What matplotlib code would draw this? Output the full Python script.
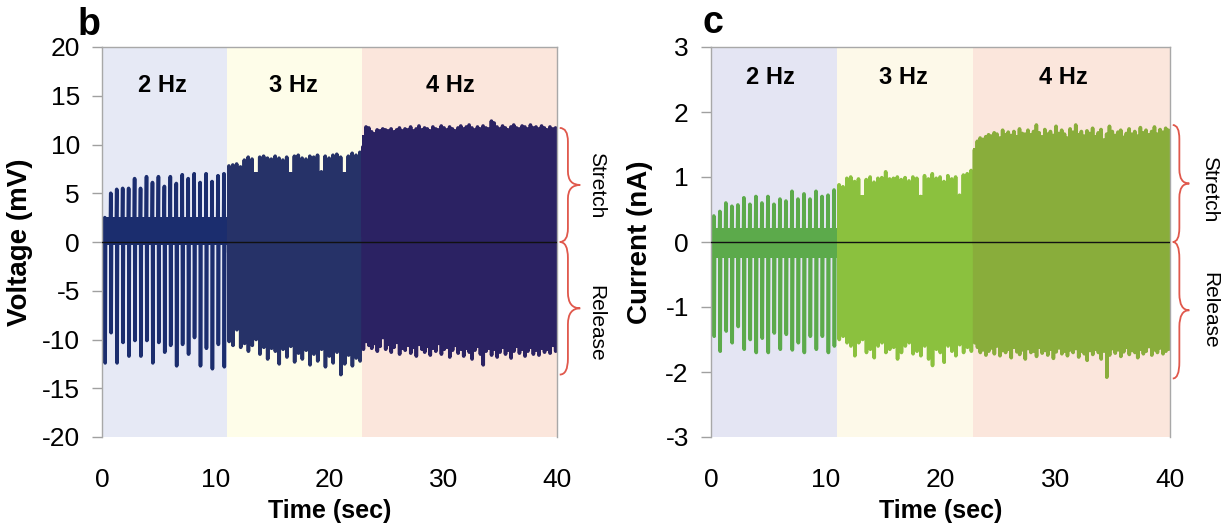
import matplotlib
matplotlib.use("Agg")
import matplotlib.pyplot as plt
from matplotlib.path import Path
from matplotlib.patches import PathPatch
from matplotlib.transforms import blended_transform_factory

plt.rcParams['font.family'] = ['Liberation Sans', 'DejaVu Sans']
plt.rcParams['axes.unicode_minus'] = False

# ==========================
# Data
# ==========================

seg_start = [0.0, 11.0, 22.85]
seg_end = [11.0, 22.85, 40.0]
seg_labels = ["2 Hz", "3 Hz", "4 Hz"]

# Voltage (mV): stretch peak / release trough of every cycle
v_peak_2hz = [2.5, 5.0, 5.4, 5.5, 5.5, 6.5, 5.5, 6.7, 6.1, 6.7, 5.7, 6.7, 6.0, 6.9,
              6.5, 7.0, 6.1, 7.0, 6.2, 6.8, 7.0]
v_trough_2hz = [-12.4, -9.3, -12.4, -10.3, -11.7, -10.1, -11.7, -10.1, -12.4, -10.3, -11.3,
                -10.6, -12.7, -10.5, -11.5, -9.8, -12.7, -10.9, -13.0, -10.5, -12.8]
v_peak_3hz = [7.8, 7.9, 8.0, 7.7, 8.4, 8.7, 8.5, 6.4, 8.7, 8.8, 8.6, 8.5, 8.8, 8.6, 8.4,
              8.7, 6.8, 8.8, 8.9, 8.6, 8.5, 8.8, 8.7, 8.9, 7.2, 8.8, 8.6, 8.9, 9.0, 8.7,
              6.9, 8.8, 9.1, 8.9, 9.2]
v_trough_3hz = [-10.2, -10.6, -9.0, -10.8, -10.4, -11.2, -10.6, -10.0, -11.5, -10.8, -12.0,
                -10.9, -11.2, -12.5, -11.0, -11.8, -10.7, -12.3, -11.4, -12.0, -11.1, -12.6,
                -11.5, -12.2, -11.0, -12.8, -11.7, -12.4, -11.3, -13.6, -12.5, -11.6, -12.7,
                -11.9, -12.2]
v_peak_4hz = [9.8, 11.8, 11.7, 11.3, 11.1, 11.5, 11.4, 11.6, 11.5, 11.4, 11.6, 11.3, 11.5, 11.7,
              11.4, 11.6, 11.5, 11.8, 11.4, 11.6, 11.9, 11.5, 11.7, 11.6, 11.4, 11.8, 11.6, 11.5,
              11.9, 11.7, 11.5, 11.8, 11.6, 11.4, 11.7, 11.9, 11.6, 11.8, 12.0, 11.7, 11.5, 11.8,
              11.6, 11.9, 11.7, 11.6, 12.4, 12.2, 11.8, 11.6, 11.9, 11.7, 11.5, 11.8, 12.0, 11.7,
              11.6, 11.9, 11.8, 11.6, 12.0, 11.7, 11.8, 11.6, 11.9, 11.7, 11.5, 11.8, 11.6, 11.7]
v_trough_4hz = [-11.0, -10.2, -10.6, -10.9, -10.4, -11.2, -10.7, -9.8, -11.0, -10.5, -11.3, -10.8,
                -10.3, -11.5, -10.9, -11.1, -10.6, -11.4, -10.8, -11.7, -10.5, -11.0, -11.3, -10.7,
                -11.6, -10.9, -11.2, -10.4, -11.5, -11.0, -10.8, -11.8, -11.1, -10.6, -11.4, -11.0,
                -11.7, -10.9, -11.3, -12.0, -11.1, -10.7, -11.5, -12.6, -11.2, -10.9, -11.6, -11.0,
                -11.8, -11.3, -10.8, -11.5, -11.1, -11.9, -11.2, -10.7, -11.4, -11.0, -11.7, -11.2,
                -10.8, -11.5, -11.1, -11.6, -10.9, -11.3, -11.0, -11.4, -10.6, -11.2]
# solid band that the signal fills between spikes (bottom, top) per segment
v_core = [(-0.3, 2.6), (-9.0, 7.2), (-9.6, 11.0)]

# Current (nA)
c_peak_2hz = [0.40, 0.47, 0.60, 0.55, 0.57, 0.68, 0.58, 0.70, 0.60, 0.70, 0.58, 0.66, 0.63,
              0.78, 0.66, 0.74, 0.66, 0.78, 0.70, 0.72, 0.80]
c_trough_2hz = [-1.45, -1.68, -1.37, -1.55, -1.30, -1.65, -1.50, -1.70, -1.48, -1.70, -1.40,
                -1.65, -1.42, -1.66, -1.55, -1.70, -1.45, -1.65, -1.45, -1.70, -1.60]
c_peak_3hz = [0.88, 0.85, 0.98, 1.00, 0.93, 0.97, 0.65, 0.96, 1.00, 0.92, 0.98, 0.99, 1.08,
              0.97, 0.98, 1.00, 0.96, 0.99, 0.94, 1.00, 0.98, 0.70, 1.02, 0.97, 1.05, 0.98,
              1.00, 0.93, 1.02, 0.97, 1.00, 0.72, 1.03, 1.05, 1.10]
c_trough_3hz = [-1.50, -1.45, -1.55, -1.60, -1.75, -1.55, -1.50, -1.70, -1.65, -1.78, -1.60,
                -1.55, -1.70, -1.65, -1.62, -1.80, -1.70, -1.60, -1.55, -1.72, -1.68, -1.75,
                -1.60, -1.80, -1.90, -1.65, -1.70, -1.85, -1.60, -1.68, -1.75, -1.58, -1.70,
                -1.62, -1.68]
c_peak_4hz = [1.42, 1.55, 1.60, 1.58, 1.62, 1.65, 1.63, 1.68, 1.66, 1.60, 1.72, 1.65, 1.69, 1.64,
              1.70, 1.62, 1.74, 1.67, 1.66, 1.72, 1.65, 1.70, 1.80, 1.68, 1.62, 1.73, 1.66, 1.70,
              1.64, 1.78, 1.67, 1.72, 1.66, 1.60, 1.74, 1.69, 1.80, 1.65, 1.70, 1.63, 1.71, 1.67,
              1.75, 1.62, 1.68, 1.73, 1.57, 1.66, 1.78, 1.70, 1.64, 1.69, 1.72, 1.61, 1.67, 1.74,
              1.66, 1.70, 1.63, 1.76, 1.68, 1.72, 1.65, 1.70, 1.77, 1.66, 1.73, 1.69, 1.75, 1.72]
c_trough_4hz = [-1.55, -1.62, -1.70, -1.66, -1.74, -1.68, -1.63, -1.72, -1.60, -1.75, -1.67, -1.70,
                -1.65, -1.78, -1.62, -1.69, -1.73, -1.66, -1.80, -1.64, -1.70, -1.68, -1.76, -1.62,
                -1.71, -1.67, -1.74, -1.65, -1.79, -1.69, -1.63, -1.72, -1.68, -1.75, -1.66, -1.70,
                -1.64, -1.77, -1.68, -1.72, -1.82, -1.67, -1.73, -1.65, -1.70, -1.80, -1.68, -2.08,
                -1.74, -1.64, -1.71, -1.66, -1.76, -1.69, -1.62, -1.73, -1.67, -1.70, -1.78, -1.65,
                -1.72, -1.68, -1.61, -1.74, -1.66, -1.70, -1.63, -1.72, -1.68, -1.65]
c_core = [(-0.25, 0.22), (-1.38, 0.72), (-1.5, 1.45)]

# brace extents (stretch top, release bottom)
v_brace = [11.7, -13.6]
c_brace = [1.8, -2.1]

# ==========================
# Helpers
# ==========================

def build_spikes(start, stop, peaks, troughs, mid):
    n = min(len(peaks), len(troughs))
    period = (stop - start) / n
    t, y = [], []
    for i in range(n):
        t0 = start + i * period
        t += [t0 + 0.40 * period, t0 + 0.47 * period, t0 + 0.53 * period, t0 + 0.60 * period]
        y += [mid, peaks[i], troughs[i], mid]
    return t, y


def brace(ax, y_lo, y_hi, x0, w):
    ym = (y_lo + y_hi) / 2
    r = 0.12 * (y_hi - y_lo)
    xm = x0 + 0.4 * w
    verts = [(x0, y_hi), (xm, y_hi), (xm, y_hi - r),
             (xm, ym + r),
             (xm, ym), (x0 + w, ym),
             (xm, ym), (xm, ym - r),
             (xm, y_lo + r),
             (xm, y_lo), (x0, y_lo)]
    codes = [Path.MOVETO, Path.CURVE3, Path.CURVE3,
             Path.LINETO,
             Path.CURVE3, Path.CURVE3,
             Path.CURVE3, Path.CURVE3,
             Path.LINETO,
             Path.CURVE3, Path.CURVE3]
    tr = blended_transform_factory(ax.transAxes, ax.transData)
    ax.add_patch(PathPatch(Path(verts, codes), transform=tr, fill=False,
                           edgecolor="#e0584c", lw=1.3, clip_on=False))


def panel(ax, peaks, troughs, core, colors, bg, ylim, yticks,
          ylabel, label_x, label_y, brace_ext, text_y, brace_w):
    for i in range(3):
        ax.axvspan(seg_start[i], seg_end[i], color=bg[i], zorder=0, lw=0)
        lo, hi = core[i]
        ax.fill_between([seg_start[i], seg_end[i]], lo, hi, color=colors[i],
                        lw=0, zorder=2)
        t, y = build_spikes(seg_start[i], seg_end[i], peaks[i], troughs[i],
                            (lo + hi) / 2)
        ax.plot(t, y, color=colors[i], lw=2.6, zorder=2)
        ax.text(label_x[i], label_y, seg_labels[i], ha="center", va="center",
                fontsize=17, fontweight="bold", zorder=4)
    ax.axhline(0, color="#111111", lw=1.0, zorder=3)

    ax.set_xlim(0, 40)
    ax.set_ylim(*ylim)
    ax.set_yticks(yticks)
    ax.set_xticks([0, 10, 20, 30, 40])
    ax.tick_params(axis="x", length=0, pad=22, labelsize=19)
    ax.tick_params(axis="y", length=7, width=1, color="#a0a0a0", pad=9, labelsize=19)
    for s in ["left", "top", "right"]:
        ax.spines[s].set_color("#a8a8a8")
        ax.spines[s].set_linewidth(1.0)
    ax.spines["bottom"].set_visible(False)

    ax.set_ylabel(ylabel, fontsize=20, fontweight="bold")
    ax.set_xlabel("Time (sec)", fontsize=18, fontweight="bold")
    ax.xaxis.set_label_coords(0.5, -0.16)

    brace(ax, 0, brace_ext[0], 1.006, brace_w)
    brace(ax, brace_ext[1], 0, 1.006, brace_w)
    tr = blended_transform_factory(ax.transAxes, ax.transData)
    ax.text(1.086, text_y[0], "Stretch", transform=tr, rotation=-90,
            ha="center", va="center", fontsize=15)
    ax.text(1.086, text_y[1], "Release", transform=tr, rotation=-90,
            ha="center", va="center", fontsize=15)


# ==========================
# Figure
# ==========================

fig = plt.figure(figsize=(12.21, 5.28), dpi=100)
ax_v = fig.add_axes([102 / 1221, 91 / 528, 455 / 1221, 390 / 528])
ax_c = fig.add_axes([711 / 1221, 91 / 528, 459 / 1221, 390 / 528])

panel(ax_v,
      [v_peak_2hz, v_peak_3hz, v_peak_4hz],
      [v_trough_2hz, v_trough_3hz, v_trough_4hz],
      v_core,
      ["#1b2d6e", "#263268", "#2b2263"],
      ["#e6e9f5", "#fefde9", "#fbe6dc"],
      (-20, 20), range(-20, 21, 5), "Voltage (mV)",
      [5.3, 16.8, 30.6], 16.1, v_brace, [5.8, -8.3], 0.045)
ax_v.yaxis.set_label_coords(-0.152, 0.5)

panel(ax_c,
      [c_peak_2hz, c_peak_3hz, c_peak_4hz],
      [c_trough_2hz, c_trough_3hz, c_trough_4hz],
      c_core,
      ["#5caa4b", "#8bc13e", "#89ad3b"],
      ["#e4e5f3", "#fdf9e9", "#fbe6dc"],
      (-3, 3), range(-3, 4), "Current (nA)",
      [5.2, 16.8, 30.7], 2.53, c_brace, [0.82, -1.05], 0.036)
ax_c.yaxis.set_label_coords(-0.126, 0.5)

fig.text(78 / 1221, 1 - 35 / 528, "b", fontsize=27, fontweight="bold", va="baseline")
fig.text(702 / 1221, 1 - 33 / 528, "c", fontsize=27, fontweight="bold", va="baseline")

fig.savefig("out.png", dpi=100)
